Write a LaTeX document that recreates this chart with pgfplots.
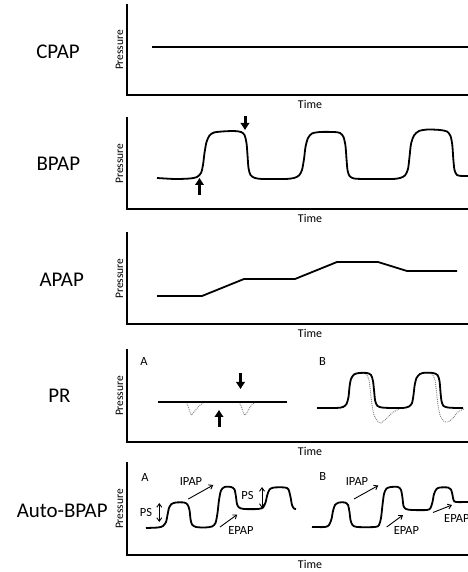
\documentclass[border=0pt]{standalone}
\usepackage{pgfplots}
\pgfplotsset{compat=1.18}
\usepackage{fontspec}
\setmainfont{Carlito}
\usetikzlibrary{arrows.meta}

% one panel: x in pixels of the figure, y = height above the time axis
\pgfplotsset{
  panel/.style={
    scale only axis,
    anchor=south west,
    axis lines=left,
    axis line style={-, line width=1.8bp, line cap=rect},
    xtick=\empty, ytick=\empty,
    xmin=127, xmax=493, ymin=0,
    width=366bp,
    clip=false,
    xlabel={Time}, ylabel={Pressure},
    xlabel style={font=\fontsize{12}{12}\selectfont, at={(axis description cs:0.5,0)},
      anchor=north, inner sep=0pt, yshift=-5bp},
    ylabel style={font=\fontsize{11.5}{11.5}\selectfont, at={(axis description cs:0,0.5)},
      anchor=south, inner sep=3.5bp},
  },
}
\tikzset{
  wave/.style={black, line width=1.8bp, smooth, tension=0.45},
  dip/.style={gray, densely dotted, line width=0.9bp, smooth, tension=0.45},
  block arrow/.style={black, line width=3bp, -{Triangle[length=7bp,width=8.5bp]}},
  note arrow/.style={black, line width=0.9bp, -{Straight Barb[length=3.5bp,width=5bp]}},
  ps arrow/.style={black, line width=0.9bp, {Straight Barb[length=3.5bp,width=5bp]}-{Straight Barb[length=3.5bp,width=5bp]}},
  note/.style={font=\fontsize{12.5}{12.5}\selectfont, inner sep=0pt},
  mode/.style={font=\fontsize{21}{21}\selectfont, inner sep=0pt},
}

\begin{document}
\begin{tikzpicture}
\path[use as bounding box] (0,0) rectangle (468bp,572bp);
\clip (0,0) rectangle (468bp,572bp);

% mode names
\node[mode] at (58bp,520.3bp) {CPAP};
\node[mode] at (58.3bp,408.3bp) {BPAP};
\node[mode] at (61.7bp,292bp) {APAP};
\node[mode] at (59.5bp,176.2bp) {PR};
\node[mode] at (62.2bp,61.3bp) {Auto-BPAP};

% CPAP
\begin{axis}[panel, at={(127bp,477bp)}, ymax=90, height=90bp]
\addplot[black, line width=1.8bp] coordinates {(152,48) (500,48)};
\end{axis}

% BPAP
\begin{axis}[panel, at={(127bp,363bp)}, ymax=91, height=91bp]
\addplot[wave] coordinates {
 (157,31) (175,30) (190,30.5) (197,32) (201,36) (203,44) (204.5,56) (206.5,67)
 (209.5,73.5) (214,76.5) (222,77.5) (234,78) (241,77) (244.5,74) (246.5,66)
 (247.5,54) (248.5,41) (250.5,34) (255,31) (263,30)
 (285,30) (294,31) (299,33.5) (302,39) (304,50) (305.5,62) (308,71) (312,75.5)
 (320,77) (334,77) (340,76) (343.5,72) (345.5,63) (346.5,50) (347.5,39)
 (349.5,33) (354,30.5) (365,30)
 (392,30) (400,31) (405,33.5) (408,40) (409.5,52) (411,65) (414,73.5) (419,78)
 (428,79.5) (440,79) (447,77.5) (450.5,73) (452.3,64) (453.3,50) (454.5,39)
 (457,34) (462,33) (470,33)};
\draw[block arrow] (axis cs:199.5,14) -- (axis cs:199.5,31);
\draw[block arrow] (axis cs:245,93) -- (axis cs:245,79);
\end{axis}

% APAP
\begin{axis}[panel, at={(127bp,248bp)}, ymax=91, height=91bp]
\addplot[black, line width=1.8bp] coordinates {
 (157,28) (202,28) (244,45) (295,45) (337,62) (378,62) (407,53) (457,53)};
\end{axis}

% PR
\begin{axis}[panel, at={(127bp,130bp)}, ymax=92, height=92bp]
\node[note] at (axis cs:144,80) {A};
\node[note] at (axis cs:322.5,80) {B};
% A: constant pressure with flow dips
\addplot[dip] coordinates {(186,40) (188,36) (190,30) (191.5,27) (194,30) (198,35) (203,39) (206,40)};
\addplot[dip] coordinates {(239,40) (241.5,35) (243.5,29) (245,27) (247.5,30) (250,35) (254,39) (257,40)};
\addplot[black, line width=1.8bp] coordinates {(158,40) (287,40)};
\draw[block arrow] (axis cs:240.5,69) -- (axis cs:240.5,53);
\draw[block arrow] (axis cs:219,15) -- (axis cs:219,32);
% B: bilevel with flow dips
\addplot[dip] coordinates {(360,69) (366,68) (369,62) (370.5,50) (372,37) (374,27)
 (377.5,21) (381,19) (386,23) (392,29) (399,33)};
\addplot[dip] coordinates {(426,69) (432,68) (435,62) (436.5,50) (438,37) (440,27)
 (443.5,21) (448,20) (453,24) (458,30) (464,33)};
\addplot[wave] coordinates {
 (317,34) (336,34) (343,35) (346.5,38) (348.5,45) (349.5,55) (351,63) (354,67.5)
 (359,69) (367,69) (371,67) (373,61) (374.2,50) (375.2,41) (377.5,36) (382,34.5)
 (390,34) (403,34) (409,35.5) (412,39) (413.5,47) (414.7,57) (416.5,64) (420,68)
 (425,69.3) (433,69) (437.5,67) (439.5,61) (440.5,50) (441.5,41) (443.5,36)
 (448,34.5) (456,34) (463,34)};
\end{axis}

% Auto-BPAP
\begin{axis}[panel, at={(127bp,17bp)}, ymax=92, height=92bp]
\node[note] at (axis cs:145,77) {A};
\node[note] at (axis cs:322.8,78) {B};
% A
\addplot[wave] coordinates {
 (146,27) (158,27.5) (163,29) (166,33) (167.5,40) (169,47) (171.5,51) (176,52.5)
 (184,52.5) (187.5,50.5) (189.5,45) (190.5,36) (192,30.5) (196,28) (205,27.5)
 (212,28.5) (215.5,32) (217.5,42) (219,55) (221,64.5) (224.5,68) (231,68)
 (234.5,65.5) (236,58) (237,51) (239,47.5) (244,46) (258,46) (263,47.5)
 (265.5,52.5) (267.3,60) (269.5,65.5) (274,67.5) (285,67.5) (288.5,65.5)
 (290.5,58) (292,50) (294,46.5) (296,46)};
\draw[ps arrow] (axis cs:159.3,52) -- (axis cs:159.3,33);
\node[note] at (axis cs:146,42) {PS};
\draw[ps arrow] (axis cs:262,68) -- (axis cs:262,47);
\node[note] at (axis cs:247.5,59) {PS};
\draw[note arrow] (axis cs:188.3,56) -- (axis cs:213.3,70);
\node[note] at (axis cs:191,73) {IPAP};
\draw[note arrow] (axis cs:220,28) -- (axis cs:237.3,40.5);
\node[note] at (axis cs:241,24) {EPAP};
% B
\addplot[wave] coordinates {
 (312,28) (325,28) (329,30) (331.5,36) (333,44) (335,50) (339,52.5) (345,52.5)
 (348,50) (349.5,43) (350.5,35) (352.5,30) (357,28) (375,28) (379,30) (381,37)
 (382.5,50) (384,61) (386.5,66.5) (391,68) (398,68) (401,65) (402.5,57)
 (403.5,49) (406,46) (412,45) (427,45) (430.5,47) (432.5,53) (434,61) (436.5,66)
 (440,67.5) (448,67.5) (451,65.5) (452.5,60) (453.5,55) (456,53) (470,53)};
\draw[note arrow] (axis cs:354,56) -- (axis cs:378.3,69.5);
\node[note] at (axis cs:357,73) {IPAP};
\draw[note arrow] (axis cs:386.7,28) -- (axis cs:403,40);
\node[note] at (axis cs:406.5,24.5) {EPAP};
\draw[note arrow] (axis cs:433,42.5) -- (axis cs:452,50);
\node[note, anchor=west] at (axis cs:444,36) {EPAP};
\end{axis}
\end{tikzpicture}
\end{document}
